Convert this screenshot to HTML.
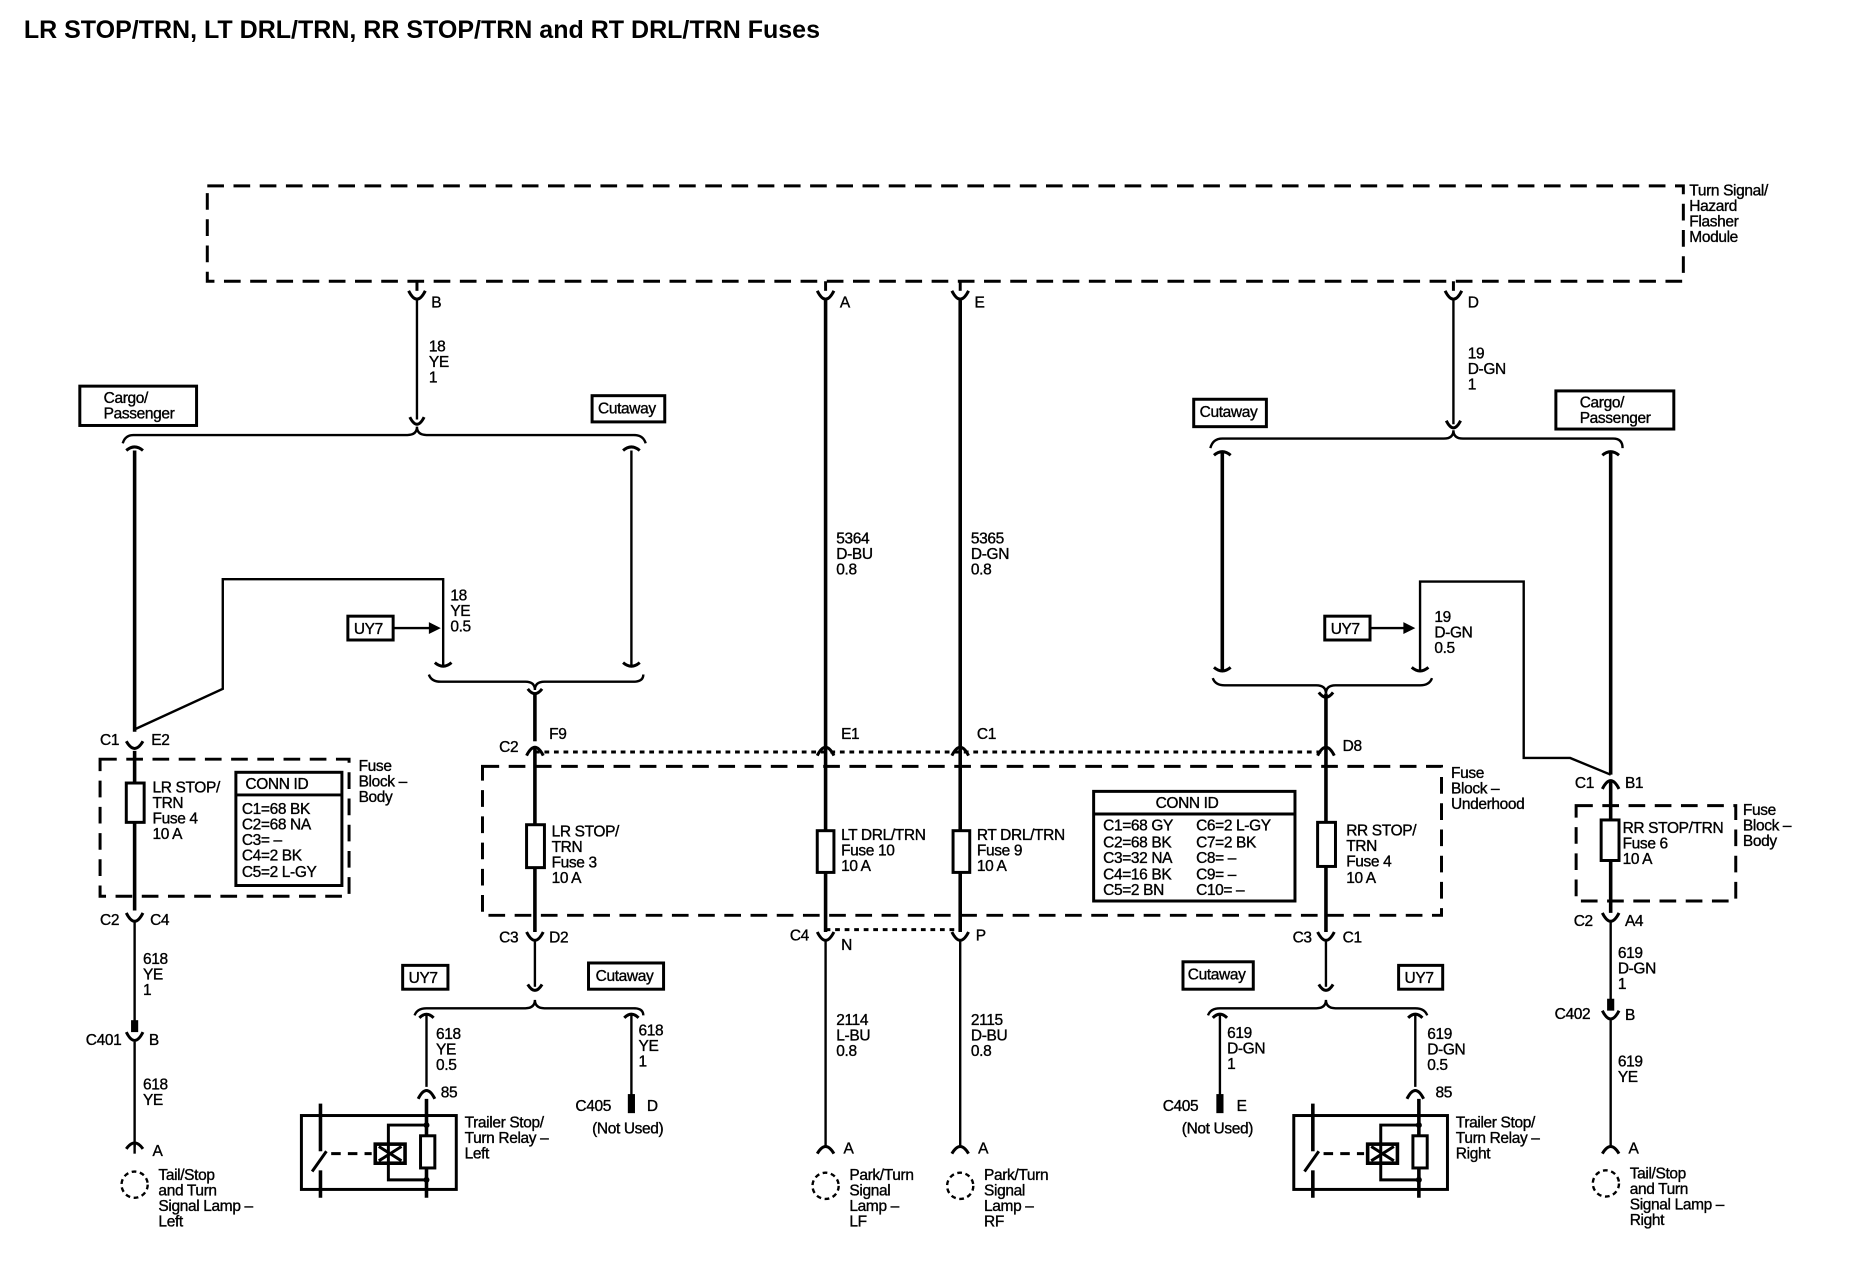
<!DOCTYPE html>
<html><head><meta charset="utf-8"><style>
html,body{margin:0;padding:0;background:#fff;}
svg{display:block;}
text{font-family:"Liberation Sans",Arial,sans-serif;font-size:13px;fill:#000;stroke:#000;stroke-width:0.3;letter-spacing:-0.3px;}
.t{font-size:21px;font-weight:bold;stroke:none;letter-spacing:0;}
.w{stroke:#000;stroke-width:3;fill:none;}
.n{stroke:#000;stroke-width:2;fill:none;}
.d{stroke:#000;stroke-width:2.5;fill:none;stroke-dasharray:14,8;}
.o{stroke:#000;stroke-width:2.5;fill:none;stroke-dasharray:4,4;}
.c{stroke:#000;stroke-width:2.5;fill:none;}
.b{stroke:#000;stroke-width:2.5;fill:#fff;}
</style></head><body>
<svg width="1868" height="1280" viewBox="0 0 1568 1074" preserveAspectRatio="none" xmlns="http://www.w3.org/2000/svg">
<text class="t" x="20" y="32">LR STOP/TRN, LT DRL/TRN, RR STOP/TRN and RT DRL/TRN Fuses</text>

<rect class="d" x="174" y="156" width="1239" height="80"/>
<text x="1418" y="164">Turn Signal/</text><text x="1418" y="177">Hazard</text><text x="1418" y="190">Flasher</text><text x="1418" y="203">Module</text>

<g class="c">
<line x1="350" y1="236" x2="350" y2="244"/><path d="M343 244 Q350 258 357 244"/>
<line x1="693" y1="236" x2="693" y2="244"/><path d="M686 244 Q693 258 700 244"/>
<line x1="806" y1="236" x2="806" y2="244"/><path d="M799 244 Q806 258 813 244"/>
<line x1="1220" y1="236" x2="1220" y2="244"/><path d="M1213 244 Q1220 258 1227 244"/>
</g>
<text x="362" y="258">B</text><text x="705" y="258">A</text><text x="818" y="258">E</text><text x="1232" y="258">D</text>

<line class="n" x1="350" y1="252" x2="350" y2="352"/>
<path class="c" d="M344 350 Q350 362 356 350"/>
<text x="360" y="295">18</text><text x="360" y="308">YE</text><text x="360" y="321">1</text>
<path class="n" d="M103 372 Q105 365 112 365 L342 365 Q350 365 350 358 Q350 365 358 365 L532 365 Q540 365 542 372"/>
<rect class="b" x="67" y="324" width="98" height="33"/><text x="87" y="338">Cargo/</text><text x="87" y="351">Passenger</text>
<rect class="b" x="497" y="332" width="61" height="22"/><text x="502" y="347">Cutaway</text>
<path class="c" d="M106 378 Q113 372 120 378"/>
<line class="w" x1="113" y1="378" x2="113" y2="614"/>
<path class="c" d="M523 378 Q530 372 537 378"/>
<line class="n" x1="530" y1="378" x2="530" y2="558"/>
<path class="c" d="M523 556 Q530 562 537 556"/>
<path class="n" d="M113 612 L187 578 L187 486 L372 486 L372 558"/>
<path class="c" d="M365 556 Q372 562 379 556"/>
<text x="378" y="504">18</text><text x="378" y="517">YE</text><text x="378" y="530">0.5</text>
<rect class="b" x="292" y="517" width="38" height="20"/><text x="297" y="532">UY7</text>
<line class="n" x1="330" y1="527" x2="362" y2="527"/><path d="M370 527 L360 522 L360 532 Z"/>
<path class="n" d="M360 566 Q362 572 370 572 L441 572 Q449 572 449 579 Q449 572 457 572 L532 572 Q540 572 540 566"/>
<path class="c" d="M443 578 Q449 586 455 578"/>
<line class="w" x1="449" y1="582" x2="449" y2="622"/>

<path class="c" d="M106 622 Q113 634 120 622"/>
<text x="84" y="625">C1</text><text x="127" y="625">E2</text>
<line class="w" x1="113" y1="630" x2="113" y2="764"/>
<rect class="d" x="84" y="637" width="209" height="115"/>
<rect class="b" x="106" y="657" width="15" height="33"/>
<text x="128" y="665">LR STOP/</text><text x="128" y="678">TRN</text><text x="128" y="691">Fuse 4</text><text x="128" y="704">10 A</text>
<rect class="c" x="198" y="648" width="89" height="95"/><line class="c" x1="198" y1="667" x2="287" y2="667"/>
<text x="206" y="662">CONN ID</text>
<text x="203" y="683">C1=68 BK</text><text x="203" y="696">C2=68 NA</text><text x="203" y="709">C3= –</text><text x="203" y="722">C4=2 BK</text><text x="203" y="736">C5=2 L-GY</text>
<text x="301" y="647">Fuse</text><text x="301" y="660">Block –</text><text x="301" y="673">Body</text>
<path class="c" d="M106 766 Q113 780 120 766"/>
<text x="84" y="776">C2</text><text x="126" y="776">C4</text>
<line class="n" x1="113" y1="774" x2="113" y2="858"/>
<text x="120" y="809">618</text><text x="120" y="822">YE</text><text x="120" y="835">1</text>
<line x1="113" y1="856" x2="113" y2="866" stroke="#000" stroke-width="6"/>
<path class="c" d="M106 866 Q113 880 120 866"/>
<text x="72" y="877">C401</text><text x="125" y="877">B</text>
<line class="n" x1="113" y1="874" x2="113" y2="962"/>
<text x="120" y="914">618</text><text x="120" y="927">YE</text>
<path class="c" d="M106 964 Q113 954 120 964"/><line class="n" x1="113" y1="960" x2="113" y2="968"/>
<text x="128" y="970">A</text>
<circle cx="113" cy="994" r="11" fill="none" stroke="#000" stroke-width="2" stroke-dasharray="4,3"/>
<text x="133" y="990">Tail/Stop</text><text x="133" y="1003">and Turn</text><text x="133" y="1016">Signal Lamp –</text><text x="133" y="1029">Left</text>

<line class="o" x1="449" y1="631" x2="1113" y2="631"/>
<rect class="d" x="405" y="643" width="805" height="125"/>
<text x="1218" y="653">Fuse</text><text x="1218" y="666">Block –</text><text x="1218" y="679">Underhood</text>
<g class="c">
<path d="M442 634 Q449 620 456 634"/><path d="M686 634 Q693 620 700 634"/><path d="M799 634 Q806 620 813 634"/><path d="M1106 634 Q1113 620 1120 634"/>
</g>
<text x="419" y="631">C2</text><text x="461" y="620">F9</text>
<text x="706" y="620">E1</text><text x="820" y="620">C1</text><text x="1127" y="630">D8</text>
<line class="w" x1="449" y1="628" x2="449" y2="782"/>
<line class="w" x1="693" y1="252" x2="693" y2="782"/>
<line class="w" x1="806" y1="252" x2="806" y2="782"/>
<line class="w" x1="1113" y1="582" x2="1113" y2="782"/>
<text x="702" y="456">5364</text><text x="702" y="469">D-BU</text><text x="702" y="482">0.8</text>
<text x="815" y="456">5365</text><text x="815" y="469">D-GN</text><text x="815" y="482">0.8</text>
<rect class="b" x="442" y="692" width="15" height="36"/>
<text x="463" y="702">LR STOP/</text><text x="463" y="715">TRN</text><text x="463" y="728">Fuse 3</text><text x="463" y="741">10 A</text>
<rect class="b" x="686" y="697" width="14" height="35"/>
<text x="706" y="705">LT DRL/TRN</text><text x="706" y="718">Fuse 10</text><text x="706" y="731">10 A</text>
<rect class="b" x="800" y="697" width="14" height="35"/>
<text x="820" y="705">RT DRL/TRN</text><text x="820" y="718">Fuse 9</text><text x="820" y="731">10 A</text>
<rect class="b" x="1106" y="690" width="15" height="37"/>
<text x="1130" y="701">RR STOP/</text><text x="1130" y="714">TRN</text><text x="1130" y="727">Fuse 4</text><text x="1130" y="741">10 A</text>
<rect class="c" x="918" y="664" width="169" height="92"/><line class="c" x1="918" y1="683" x2="1087" y2="683"/>
<text x="970" y="678">CONN ID</text>
<text x="926" y="697">C1=68 GY</text><text x="926" y="711">C2=68 BK</text><text x="926" y="724">C3=32 NA</text><text x="926" y="738">C4=16 BK</text><text x="926" y="751">C5=2 BN</text>
<text x="1004" y="697">C6=2 L-GY</text><text x="1004" y="711">C7=2 BK</text><text x="1004" y="724">C8= –</text><text x="1004" y="738">C9= –</text><text x="1004" y="751">C10= –</text>

<line class="o" x1="693" y1="780" x2="806" y2="780"/>
<g class="c">
<path d="M442 782 Q449 796 456 782"/><path d="M686 782 Q693 796 700 782"/><path d="M799 782 Q806 796 813 782"/><path d="M1106 782 Q1113 796 1120 782"/>
</g>
<text x="419" y="791">C3</text><text x="461" y="791">D2</text>
<text x="663" y="789">C4</text><text x="706" y="797">N</text><text x="819" y="789">P</text>
<text x="1085" y="791">C3</text><text x="1127" y="791">C1</text>

<line class="n" x1="693" y1="790" x2="693" y2="962"/>
<line class="n" x1="806" y1="790" x2="806" y2="962"/>
<text x="702" y="860">2114</text><text x="702" y="873">L-BU</text><text x="702" y="886">0.8</text>
<text x="815" y="860">2115</text><text x="815" y="873">D-BU</text><text x="815" y="886">0.8</text>
<path class="c" d="M686 968 Q693 956 700 968"/><path class="c" d="M799 968 Q806 956 813 968"/>
<text x="708" y="968">A</text><text x="821" y="968">A</text>
<circle cx="693" cy="995" r="11" fill="none" stroke="#000" stroke-width="2" stroke-dasharray="4,3"/>
<circle cx="806" cy="995" r="11" fill="none" stroke="#000" stroke-width="2" stroke-dasharray="4,3"/>
<text x="713" y="990">Park/Turn</text><text x="713" y="1003">Signal</text><text x="713" y="1016">Lamp –</text><text x="713" y="1029">LF</text>
<text x="826" y="990">Park/Turn</text><text x="826" y="1003">Signal</text><text x="826" y="1016">Lamp –</text><text x="826" y="1029">RF</text>

<line class="n" x1="449" y1="790" x2="449" y2="828"/>
<path class="c" d="M443 826 Q449 836 455 826"/>
<path class="n" d="M348 852 Q350 846 358 846 L441 846 Q449 846 449 839 Q449 846 457 846 L532 846 Q540 846 540 852"/>
<rect class="b" x="338" y="810" width="38" height="20"/><text x="343" y="825">UY7</text>
<rect class="b" x="494" y="808" width="63" height="22"/><text x="500" y="823">Cutaway</text>
<path class="c" d="M352 854 Q358 848 364 854"/>
<line class="n" x1="358" y1="852" x2="358" y2="912"/>
<text x="366" y="872">618</text><text x="366" y="885">YE</text><text x="366" y="898">0.5</text>
<path class="c" d="M351 922 Q358 908 365 922"/><text x="370" y="921">85</text>
<path class="c" d="M524 854 Q530 848 536 854"/>
<line class="n" x1="530" y1="852" x2="530" y2="920"/>
<line x1="530" y1="918" x2="530" y2="934" stroke="#000" stroke-width="6"/>
<text x="536" y="869">618</text><text x="536" y="882">YE</text><text x="536" y="895">1</text>
<text x="483" y="932">C405</text><text x="543" y="932">D</text><text x="497" y="951">(Not Used)</text>

<g>
<line class="w" x1="358" y1="922" x2="358" y2="1005"/>
<line class="w" x1="269" y1="926" x2="269" y2="966"/>
<line class="w" x1="269" y1="982" x2="269" y2="1005"/>
<rect class="c" x="253" y="936" width="130" height="62"/>
<line class="c" x1="262" y1="983" x2="274" y2="966"/>
<line class="c" x1="278" y1="968" x2="312" y2="968" stroke-dasharray="8,6"/>
<rect x="315" y="960" width="25" height="16" fill="#fff" stroke="#000" stroke-width="3"/>
<path class="c" d="M318 962 L337 974 M318 974 L337 962"/>
<path class="c" d="M358 944 L326 944 L326 990 L358 990"/>
<rect class="b" x="353" y="953" width="12" height="27"/>
<circle cx="358" cy="944" r="2.5"/><circle cx="358" cy="990" r="2.5"/>
</g>
<text x="390" y="946">Trailer Stop/</text><text x="390" y="959">Turn Relay –</text><text x="390" y="972">Left</text>

<line class="n" x1="1220" y1="252" x2="1220" y2="356"/>
<path class="c" d="M1214 353 Q1220 365 1226 353"/>
<text x="1232" y="301">19</text><text x="1232" y="314">D-GN</text><text x="1232" y="327">1</text>
<path class="n" d="M1016 376 Q1018 368 1026 368 L1212 368 Q1220 368 1220 361 Q1220 368 1228 368 L1354 368 Q1362 368 1362 376"/>
<rect class="b" x="1002" y="335" width="61" height="23"/><text x="1007" y="350">Cutaway</text>
<rect class="b" x="1306" y="328" width="99" height="32"/><text x="1326" y="342">Cargo/</text><text x="1326" y="355">Passenger</text>
<path class="c" d="M1019 382 Q1026 376 1033 382"/>
<line class="w" x1="1026" y1="380" x2="1026" y2="562"/>
<path class="c" d="M1019 560 Q1026 566 1033 560"/>
<path class="c" d="M1345 382 Q1352 376 1359 382"/>
<line class="w" x1="1352" y1="380" x2="1352" y2="650"/>
<path class="n" d="M1352 650 L1318 636 L1279 636 L1279 488 L1192 488 L1192 562"/>
<path class="c" d="M1185 560 Q1192 566 1199 560"/>
<text x="1204" y="522">19</text><text x="1204" y="535">D-GN</text><text x="1204" y="548">0.5</text>
<rect class="b" x="1112" y="517" width="38" height="20"/><text x="1117" y="532">UY7</text>
<line class="n" x1="1150" y1="527" x2="1180" y2="527"/><path d="M1188 527 L1178 522 L1178 532 Z"/>
<path class="n" d="M1018 569 Q1020 575 1028 575 L1105 575 Q1113 575 1113 582 Q1113 575 1121 575 L1192 575 Q1200 575 1202 569"/>
<path class="c" d="M1107 581 Q1113 589 1119 581"/>

<path class="c" d="M1345 662 Q1352 648 1359 662"/>
<text x="1322" y="661">C1</text><text x="1364" y="661">B1</text>
<line class="w" x1="1352" y1="656" x2="1352" y2="766"/>
<rect class="d" x="1323" y="676" width="134" height="80"/>
<rect class="b" x="1344" y="688" width="15" height="34"/>
<text x="1362" y="699">RR STOP/TRN</text><text x="1362" y="712">Fuse 6</text><text x="1362" y="725">10 A</text>
<text x="1463" y="684">Fuse</text><text x="1463" y="697">Block –</text><text x="1463" y="710">Body</text>
<path class="c" d="M1345 766 Q1352 780 1359 766"/>
<text x="1321" y="777">C2</text><text x="1364" y="777">A4</text>
<line class="n" x1="1352" y1="774" x2="1352" y2="840"/>
<text x="1358" y="804">619</text><text x="1358" y="817">D-GN</text><text x="1358" y="830">1</text>
<line x1="1352" y1="838" x2="1352" y2="848" stroke="#000" stroke-width="6"/>
<path class="c" d="M1345 848 Q1352 862 1359 848"/>
<text x="1305" y="855">C402</text><text x="1364" y="856">B</text>
<line class="n" x1="1352" y1="856" x2="1352" y2="962"/>
<text x="1358" y="895">619</text><text x="1358" y="908">YE</text>
<path class="c" d="M1345 968 Q1352 956 1359 968"/>
<text x="1367" y="968">A</text>
<circle cx="1348" cy="993" r="11" fill="none" stroke="#000" stroke-width="2" stroke-dasharray="4,3"/>
<text x="1368" y="989">Tail/Stop</text><text x="1368" y="1002">and Turn</text><text x="1368" y="1015">Signal Lamp –</text><text x="1368" y="1028">Right</text>

<line class="n" x1="1113" y1="790" x2="1113" y2="828"/>
<path class="c" d="M1107 826 Q1113 836 1119 826"/>
<path class="n" d="M1014 852 Q1016 846 1024 846 L1105 846 Q1113 846 1113 839 Q1113 846 1121 846 L1188 846 Q1196 846 1198 852"/>
<rect class="b" x="993" y="807" width="59" height="23"/><text x="997" y="822">Cutaway</text>
<rect class="b" x="1174" y="810" width="37" height="20"/><text x="1179" y="825">UY7</text>
<path class="c" d="M1018 854 Q1024 848 1030 854"/>
<line class="n" x1="1024" y1="852" x2="1024" y2="920"/>
<line x1="1024" y1="918" x2="1024" y2="934" stroke="#000" stroke-width="6"/>
<text x="1030" y="871">619</text><text x="1030" y="884">D-GN</text><text x="1030" y="897">1</text>
<text x="976" y="932">C405</text><text x="1038" y="932">E</text><text x="992" y="951">(Not Used)</text>
<path class="c" d="M1182 854 Q1188 848 1194 854"/>
<line class="n" x1="1188" y1="852" x2="1188" y2="912"/>
<text x="1198" y="872">619</text><text x="1198" y="885">D-GN</text><text x="1198" y="898">0.5</text>
<path class="c" d="M1181 922 Q1188 908 1195 922"/><text x="1205" y="921">85</text>

<g>
<line class="w" x1="1191" y1="922" x2="1191" y2="1005"/>
<line class="w" x1="1102" y1="926" x2="1102" y2="966"/>
<line class="w" x1="1102" y1="982" x2="1102" y2="1005"/>
<rect class="c" x="1086" y="936" width="129" height="62"/>
<line class="c" x1="1095" y1="983" x2="1107" y2="966"/>
<line class="c" x1="1111" y1="968" x2="1145" y2="968" stroke-dasharray="8,6"/>
<rect x="1148" y="960" width="25" height="16" fill="#fff" stroke="#000" stroke-width="3"/>
<path class="c" d="M1151 962 L1170 974 M1151 974 L1170 962"/>
<path class="c" d="M1191 944 L1159 944 L1159 990 L1191 990"/>
<rect class="b" x="1186" y="953" width="12" height="27"/>
<circle cx="1191" cy="944" r="2.5"/><circle cx="1191" cy="990" r="2.5"/>
</g>
<text x="1222" y="946">Trailer Stop/</text><text x="1222" y="959">Turn Relay –</text><text x="1222" y="972">Right</text>
</svg>
</body></html>
